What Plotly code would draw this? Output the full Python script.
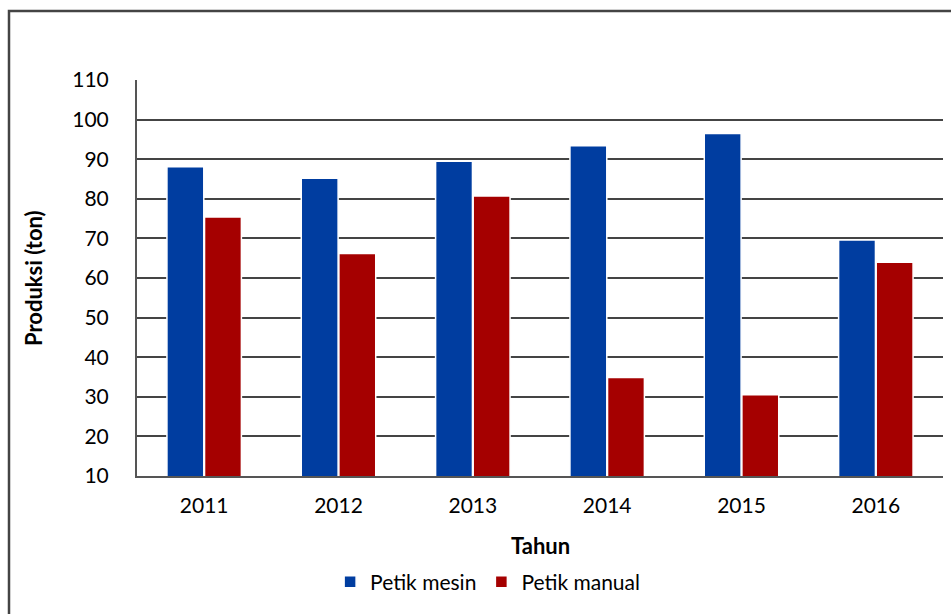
import plotly.graph_objects as go

years = ["2011", "2012", "2013", "2014", "2015", "2016"]
petik_mesin = [88.1, 85.2, 89.5, 93.4, 96.5, 69.6]
petik_manual = [75.4, 66.2, 80.7, 34.9, 30.5, 64.0]
y_ticks = [10, 20, 30, 40, 50, 60, 70, 80, 90, 100, 110]

FONT = "Lato"
W, H = 951, 614
L, R, T, B = 137, 8, 80, 138
pw, ph = W - L - R, H - T - B

fig = go.Figure()
fig.add_trace(go.Bar(name="Petik mesin", x=years, y=petik_mesin,
                     marker=dict(color="#003DA0", line=dict(color="white", width=1.5))))
fig.add_trace(go.Bar(name="Petik manual", x=years, y=petik_manual,
                     marker=dict(color="#A50000", line=dict(color="white", width=1.5))))

fig.update_layout(
    width=W, height=H,
    margin=dict(l=L, r=R, t=T, b=B),
    paper_bgcolor="white", plot_bgcolor="white",
    barmode="group", bargap=0.44, bargroupgap=0.02,
    font=dict(family=FONT, size=21, color="black"),
    showlegend=True,
    legend=dict(orientation="h", x=0.435, xanchor="center", y=(476 - 582) / ph, yanchor="middle",
                font=dict(size=21), itemwidth=30, traceorder="normal"),
    xaxis=dict(showline=True, linecolor="#555555", linewidth=2, showgrid=False,
               ticks="", ticklabelstandoff=10, tickfont=dict(size=21)),
    yaxis=dict(range=[10, 110], tickvals=y_ticks, showline=True, linecolor="#555555", linewidth=2,
               showgrid=True, gridcolor="#444444", gridwidth=2, zeroline=False,
               ticks="", ticklabelstandoff=22, tickfont=dict(size=21)),
    annotations=[
        dict(text="<b>Tahun</b>", xref="paper", yref="paper", x=0.5, y=(476 - 545) / ph,
             xanchor="center", yanchor="middle", showarrow=False, font=dict(size=22)),
        dict(text="<b>Produksi (ton)</b>", xref="paper", yref="paper", x=(33 - L) / pw, y=0.5,
             xanchor="center", yanchor="middle", textangle=-90, showarrow=False, font=dict(size=22)),
    ],
    shapes=[
        dict(type="rect", xref="paper", yref="paper", x0=(9 - L) / pw, x1=1.2,
             y0=-0.6, y1=(476 - 11) / ph, line=dict(color="#444444", width=2.5),
             fillcolor="rgba(0,0,0,0)", layer="below"),
    ],
)

fig.write_html("out.html")
